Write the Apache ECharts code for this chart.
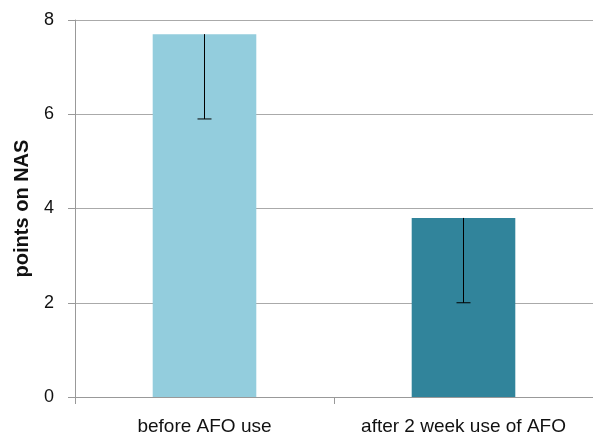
<!DOCTYPE html>
<html>
<head>
<meta charset="utf-8">
<script src="https://cdn.jsdelivr.net/npm/echarts@6/dist/echarts.min.js"></script>
<style>
html, body { margin: 0; padding: 0; background: #fff; }
#chart { width: 593px; height: 437px; }
</style>
</head>
<body>
<div id="chart"></div>
<script>
var categories = ['before AFO use', 'after 2 week use of AFO'];
var values = [7.7, 3.8];
var lowerErr = [1.8, 1.8];
var barColors = ['#93cddd', '#31849b'];

var chart = echarts.init(document.getElementById('chart'));
var font = 'Liberation Sans, Arial, sans-serif';

var errData = [];
for (var i = 0; i < values.length; i++) {
    errData.push([i, values[i], values[i] - lowerErr[i]]);
}

chart.setOption({
    animation: false,
    grid: {left: 75, right: 0, top: 20, bottom: 40},
    xAxis: {
        type: 'category',
        data: categories,
        axisLine: {lineStyle: {color: '#999', width: 1}},
        axisTick: {show: true, interval: 0, length: 7, lineStyle: {color: '#999'}},
        axisLabel: {interval: 0, hideOverlap: false, color: '#111', fontSize: 19, fontFamily: font, margin: 20}
    },
    yAxis: {
        type: 'value',
        min: 0,
        max: 8,
        interval: 2,
        name: 'points on NAS',
        nameLocation: 'middle',
        nameGap: 43,
        nameTextStyle: {fontSize: 20, fontWeight: 'bold', color: '#111', fontFamily: font},
        axisLine: {show: true, lineStyle: {color: '#999'}},
        axisTick: {show: true, length: 7, lineStyle: {color: '#999'}},
        axisLabel: {color: '#111', fontSize: 18, fontFamily: font, margin: 21},
        splitLine: {lineStyle: {color: '#aaa'}}
    },
    series: [{
        type: 'bar',
        barWidth: '40%',
        data: values.map(function(v, i) {
            return {value: v, itemStyle: {color: barColors[i]}};
        })
    }, {
        type: 'custom',
        data: errData,
        z: 10,
        renderItem: function(params, api) {
            var top = api.coord([api.value(0), api.value(1)]);
            var bot = api.coord([api.value(0), api.value(2)]);
            var cap = 7;
            return {
                type: 'group',
                children: [{
                    type: 'line',
                    shape: {x1: top[0], y1: top[1], x2: bot[0], y2: bot[1]},
                    style: {stroke: '#000', lineWidth: 1}
                }, {
                    type: 'line',
                    shape: {x1: bot[0] - cap, y1: bot[1], x2: bot[0] + cap, y2: bot[1]},
                    style: {stroke: '#000', lineWidth: 1}
                }]
            };
        }
    }]
});
</script>
</body>
</html>
